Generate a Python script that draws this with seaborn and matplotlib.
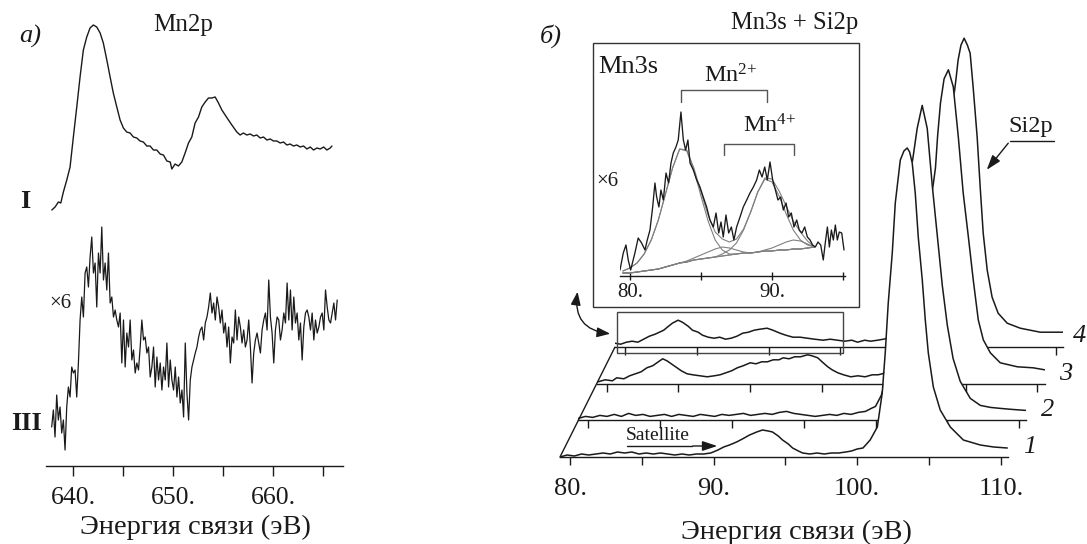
import numpy as np
import matplotlib
matplotlib.use('Agg')
import matplotlib.pyplot as plt
import seaborn as sns
from matplotlib.patches import Rectangle, FancyArrowPatch
from matplotlib.lines import Line2D

# ---------------- data ----------------
# Panel a) Mn2p : spectrum I
mn2p_I_energy = [637.84, 638.17, 638.50, 638.74, 639.00, 639.34, 639.67, 640.00, 640.34, 640.67,
                 641.00, 641.34, 641.67, 642.00, 642.34, 642.68, 643.00, 643.35, 643.68, 644.00,
                 644.35, 644.68, 645.01, 645.34, 645.68, 646.01, 646.35, 646.68, 647.01, 647.35,
                 647.68, 648.02, 648.35, 648.69, 649.02, 649.36, 649.70, 649.86, 650.19, 650.52,
                 650.86, 651.19, 651.53, 651.86, 652.19, 652.53, 652.86, 653.20, 653.53, 653.87,
                 654.20, 654.53, 654.87, 655.20, 655.53, 655.87, 656.37, 656.70, 657.03, 657.37,
                 657.70, 658.04, 658.37, 658.71, 659.04, 659.38, 659.71, 660.04, 660.38, 660.71,
                 661.04, 661.38, 661.71, 662.04, 662.38, 662.71, 663.05, 663.39, 663.72, 664.05,
                 664.39, 664.72, 665.06, 665.39, 665.72, 665.89]
mn2p_I_counts = [256, 259, 264, 263, 274, 286, 299, 329, 359, 389,
                 416, 429, 438, 441, 439, 433, 423, 406, 389, 373,
                 359, 346, 338, 334, 333, 329, 328, 325, 324, 320,
                 320, 316, 316, 312, 311, 305, 304, 297, 302, 300,
                 304, 313, 323, 329, 343, 349, 359, 364, 368, 368,
                 369, 363, 356, 351, 346, 341, 334, 331, 333, 331,
                 332, 330, 331, 328, 329, 326, 327, 325, 325, 323,
                 324, 321, 322, 320, 321, 319, 320, 317, 319, 316,
                 318, 317, 319, 316, 318, 320]

# Panel a) Mn2p : spectrum III (x6), sampled on a uniform energy grid
mn2p_III_range = (637.83, 666.42)
mn2p_III_counts = [39, 56, 29, 71, 46, 59, 33, 46, 16, 59, 79, 69, 99, 93, 96, 69, 103, 146, 169, 149,
                   193, 199, 179, 209, 229, 193, 203, 159, 213, 193, 239, 186, 203, 176, 213, 163, 169, 149,
                   156, 146, 139, 153, 103, 146, 99, 133, 119, 146, 106, 116, 93, 103, 96, 119, 146, 126,
                   129, 113, 119, 89, 99, 119, 79, 109, 86, 103, 76, 99, 86, 123, 79, 106, 86, 76, 99, 69,
                   89, 63, 76, 49, 123, 73, 46, 86, 99, 106, 113, 119, 129, 136, 139, 126, 143, 149, 159,
                   173, 153, 163, 146, 169, 159, 143, 156, 133, 143, 119, 139, 103, 129, 123, 156, 126,
                   149, 139, 123, 136, 119, 126, 146, 119, 83, 113, 126, 133, 123, 113, 136, 146, 153, 136,
                   186, 149, 133, 103, 136, 149, 146, 126, 136, 153, 143, 183, 146, 176, 136, 169, 143,
                   153, 126, 143, 106, 139, 153, 156, 149, 136, 153, 126, 146, 133, 139, 149, 153, 136,
                   176, 159, 146, 143, 153, 163, 146, 166]

# Panel б) Mn3s + Si2p : spectra 1..4
s1_energy = [79.3, 79.8, 80.3, 80.8, 81.3, 81.8, 82.3, 82.8, 83.3, 83.8, 84.3, 84.8, 85.3, 85.8, 86.3,
             86.8, 87.3, 87.8, 88.3, 88.8, 89.3, 89.8, 90.3, 90.7, 91.1, 91.6, 92.0, 92.5, 93.0, 93.4,
             93.8, 94.1, 94.5, 94.8, 95.2, 95.5, 95.9, 96.2, 96.7, 97.2, 97.7, 98.2, 98.7, 99.2, 99.6,
             100.0, 100.4, 100.9, 101.4, 101.74, 101.95, 102.16, 102.44, 102.65, 103.0, 103.25, 103.48,
             103.65, 103.83, 104.04, 104.25, 104.53, 104.74, 104.95, 105.3, 105.78, 106.48, 107.39,
             108.57, 109.5, 110.45]
s1_counts = [0, 2, 1, 3, 2, 3, 4, 3, 5, 4, 5, 3, 4, 3, 4,
             3, 2, 3, 2, 3, 3, 4, 7, 10, 12, 15, 18, 22, 25, 27,
             26, 25, 21, 17, 13, 9, 6, 4, 3, 4, 3, 4, 4, 5, 6,
             8, 9, 17, 30, 64, 104, 154, 204, 254, 297, 306, 309,
             305, 294, 264, 220, 177, 137, 104, 70, 47, 30, 17,
             12, 10, 9]

s2_energy = [79.3, 79.8, 80.3, 80.8, 81.3, 81.8, 82.3, 82.8, 83.3, 83.8, 84.3, 84.8, 85.3, 85.8, 86.3,
             86.8, 87.3, 87.8, 88.3, 88.8, 89.3, 89.8, 90.3, 90.8, 91.3, 91.8, 92.3, 92.8, 93.3, 93.8,
             94.3, 94.8, 95.3, 95.8, 96.3, 96.8, 97.3, 97.8, 98.3, 98.8, 99.3, 99.7, 100.0, 100.4,
             100.8, 101.1, 101.4, 101.7, 102.0, 102.3, 102.6, 102.9, 103.25, 103.6, 103.95, 104.3,
             104.65, 105.0, 105.4, 105.9, 106.6, 107.3, 108.0, 108.7, 109.5, 110.45]
s2_counts = [2, 4, 3, 5, 4, 6, 4, 7, 5, 6, 4, 5, 6, 4, 6,
             5, 4, 6, 5, 4, 6, 5, 6, 7, 5, 6, 7, 6, 8, 9,
             7, 6, 5, 4, 5, 6, 5, 7, 6, 8, 9, 12, 14, 25,
             45, 75, 115, 160, 205, 235, 262, 292, 315, 292, 235, 185,
             135, 95, 62, 39, 22, 15, 13, 12, 11, 10]

s3_energy = [79.4, 79.9, 80.4, 80.7, 81.2, 81.6, 82.0, 82.4, 82.8, 83.2, 83.5, 83.9, 84.2, 84.5, 84.9,
             85.2, 85.6, 86.0, 86.5, 87.0, 87.5, 87.9, 88.3, 88.7, 89.1, 89.5, 90.0, 90.4, 90.8, 91.2,
             91.6, 92.0, 92.3, 92.7, 93.1, 93.5, 94.0, 94.3, 94.7, 95.0, 95.4, 95.7, 96.1, 96.5, 97.0,
             97.5, 98.0, 98.5, 98.9, 99.2, 99.6, 100.0, 100.5, 101.0, 101.5, 102.0, 102.4, 102.75,
             102.9, 103.05, 103.25, 103.5, 103.8, 104.14, 104.49, 104.83, 105.19, 105.53, 105.88,
             106.23, 106.72, 107.41, 108.6, 109.7, 110.5]
s3_counts = [2, 4, 3, 6, 5, 8, 10, 12, 16, 18, 21, 25, 23, 20, 16,
             13, 10, 9, 8, 7, 8, 9, 11, 13, 16, 18, 21, 20, 22, 22,
             24, 24, 26, 25, 27, 27, 29, 28, 26, 22, 17, 14, 11, 9, 7,
             8, 7, 9, 9, 10, 13, 18, 30, 52, 90, 135, 170, 200,
             216, 248, 281, 305, 314, 297, 247, 191, 147, 104, 64,
             44, 31, 21, 17, 16, 14]

s4_energy = [79.3, 79.7, 80.1, 80.5, 80.9, 81.3, 81.7, 82.1, 82.4, 82.7, 82.95, 83.3, 83.7, 84.0, 84.4,
             84.7, 85.1, 85.4, 85.8, 86.2, 86.6, 87.0, 87.4, 87.8, 88.2, 88.6, 89.0, 89.4, 89.9, 90.3,
             90.8, 91.2, 91.7, 92.2, 92.7, 93.2, 93.8, 94.3, 94.8, 95.3, 95.8, 96.2, 96.7, 97.1, 97.6,
             98.0, 98.3, 99.0, 99.5, 100.0, 100.5, 101.0, 101.5, 102.0, 102.5, 102.9, 103.07, 103.2,
             103.4, 103.62, 103.85, 104.04, 104.25, 104.53, 104.74, 104.95, 105.23, 105.57, 105.99,
             106.62, 107.53, 108.92, 110.31, 110.6]
s4_counts = [4, 3, 5, 6, 5, 8, 11, 13, 15, 17, 20, 24, 27, 25, 21,
             17, 15, 12, 10, 9, 10, 8, 9, 11, 14, 15, 17, 18, 19, 17,
             14, 12, 10, 10, 9, 8, 7, 8, 7, 6, 7, 5, 7, 6, 7,
             8, 9, 12, 16, 22, 35, 60, 100, 150, 205, 250, 270, 287,
             302, 309, 302, 294, 260, 210, 160, 114, 77, 50, 34,
             24, 19, 15, 15, 15]

# Inset Mn3s (x6)
inset_energy = [79.30, 79.53, 79.72, 79.88, 80.05, 80.35, 80.58, 80.82, 81.06, 81.22, 81.41, 81.60, 81.76,
                81.88, 82.04, 82.18, 82.35, 82.54, 82.72, 82.89, 83.05, 83.24, 83.40, 83.59, 83.76, 83.92,
                84.08, 84.23, 84.46, 84.70, 84.93, 85.16, 85.40, 85.63, 85.87, 86.06, 86.25, 86.41, 86.57,
                86.76, 86.95, 87.14, 87.32, 87.51, 87.75, 87.98, 88.22, 88.45, 88.69, 88.92, 89.11, 89.30,
                89.49, 89.67, 89.86, 90.05, 90.24, 90.42, 90.61, 90.80, 90.99, 91.17, 91.36, 91.55, 91.74,
                91.92, 92.11, 92.30, 92.49, 92.68, 92.86, 93.05, 93.24, 93.43, 93.61, 93.75, 93.90, 94.04,
                94.18, 94.32, 94.46, 94.60, 94.74, 94.91, 95.07]
inset_counts = [6, 23, 31, 16, 6, 23, 38, 33, 26, 36, 46, 69, 93, 79, 69, 86, 76, 103, 93, 113, 123, 129,
                136, 164, 136, 126, 136, 113, 106, 96, 89, 79, 69, 56, 49, 63, 43, 54, 39, 61, 43, 49, 36,
                49, 59, 69, 76, 83, 89, 96, 106, 99, 109, 96, 114, 96, 86, 76, 79, 66, 73, 59, 63, 49, 56,
                46, 43, 49, 39, 36, 31, 29, 34, 31, 16, 33, 49, 29, 46, 36, 51, 36, 44, 43, 26]
fit_energy = [79.5, 80.0, 80.5, 81.0, 81.5, 82.0, 82.5, 83.0, 83.5, 84.0, 84.5, 85.0, 85.5, 86.0,
              86.5, 87.0, 87.5, 88.0, 88.5, 89.0, 89.5, 90.0, 90.5, 91.0, 91.5, 92.0, 92.5, 93.0]
fit_background = [3, 3, 4, 5, 6, 7, 9, 11, 13, 14, 16, 17, 18, 19, 20, 21, 22, 23, 23, 24, 25, 25, 26, 26, 27, 27, 28, 29]
fit_mn2_a = [5, 8, 13, 22, 36, 56, 82, 108, 127, 125, 106, 80, 55, 36, 26, 22, 22, 23, 23, 24, 25, 25, 26, 26, 27, 27, 28, 29]
fit_mn2_b = [3, 3, 4, 5, 6, 7, 9, 11, 13, 14, 16, 17, 18, 19, 22, 26, 33, 46, 64, 84, 97, 94, 80, 62, 46, 36, 31, 29]
fit_mn4_a = [3, 3, 4, 5, 6, 7, 9, 11, 13, 15, 18, 21, 24, 27, 29, 28, 26, 24, 23, 24, 25, 25, 26, 26, 27, 27, 28, 29]
fit_mn4_b = [3, 3, 4, 5, 6, 7, 9, 11, 13, 14, 16, 17, 18, 19, 20, 21, 22, 23, 23, 24, 26, 28, 31, 34, 36, 35, 32, 29]
fit_envelope = [5, 8, 13, 22, 36, 56, 82, 108, 127, 126, 108, 84, 61, 44, 37, 34, 37, 47, 64, 84, 98, 97, 85, 70, 55, 44, 35, 29]

left_ticks = [640, 645, 650, 655, 660, 665]
left_ticklabels = ['640.', '', '650.', '', '660.', '']
right_ticks = [80, 85, 90, 95, 100, 105, 110]
right_ticklabels = ['80.', '', '90.', '', '100.', '', '110.']
inset_ticks = [80, 85, 90, 95]
inset_ticklabels = ['80.', '', '90.', '']
spectrum_labels = ['1', '2', '3', '4']

# ---------------- style ----------------
sns.set_theme(style='white')
plt.rcParams['font.family'] = ['Liberation Serif', 'DejaVu Serif']
plt.rcParams['mathtext.fontset'] = 'custom'
plt.rcParams['mathtext.rm'] = 'Liberation Serif'
plt.rcParams['mathtext.it'] = 'Liberation Serif:italic'
plt.rcParams['mathtext.bf'] = 'Liberation Serif:bold'
plt.rcParams['mathtext.default'] = 'regular'

W, H = 1087, 544
fig = plt.figure(figsize=(W / 100, H / 100), dpi=100)
fig.patch.set_facecolor('white')
INK = '#1a1a1a'


def F(x, y):
    return (x / W, 1 - y / H)


def add_ax(x0, ytop, x1, ybot, z=1):
    ax = fig.add_axes([x0 / W, 1 - ybot / H, (x1 - x0) / W, (ybot - ytop) / H], zorder=z)
    ax.set_facecolor('none')
    for s in ['top', 'left', 'right']:
        ax.spines[s].set_visible(False)
    ax.spines['bottom'].set_color(INK)
    ax.spines['bottom'].set_linewidth(1.0)
    ax.set_yticks([])
    ax.grid(False)
    ax.set_xlabel('')
    ax.set_ylabel('')
    return ax


def curve(ax, x, y, lw=1.0, color=INK, z=3):
    sns.lineplot(x=np.asarray(x, float), y=np.asarray(y, float), ax=ax, color=color,
                 linewidth=lw, estimator=None, sort=False, legend=False, zorder=z)
    ax.set_xlabel('')
    ax.set_ylabel('')


# ---------------- panel a ----------------
axL = add_ax(46, 5, 343, 466)
axL.set_xlim(637.26, 667.0)
axL.set_ylim(0, 461)
curve(axL, mn2p_I_energy, mn2p_I_counts, lw=1.0)
e3 = np.linspace(mn2p_III_range[0], mn2p_III_range[1], len(mn2p_III_counts))
curve(axL, e3, mn2p_III_counts, lw=0.9)
axL.set_xticks(left_ticks)
axL.set_xticklabels(left_ticklabels)
axL.tick_params(axis='x', bottom=True, direction='out', length=7, width=1, color=INK,
                labelsize=18.5, pad=8, labelcolor=INK)

fig.text(*F(30, 36), 'а)', style='italic', size=19, ha='center', va='center', color=INK)
fig.text(*F(183, 25), 'Mn2p', size=18, ha='center', va='center', color=INK)
fig.text(*F(25, 202), 'I', weight='bold', size=19, ha='center', va='center', color=INK)
fig.text(*F(27, 424), 'III', weight='bold', size=19, ha='center', va='center', color=INK)
fig.text(*F(60, 304), '×6', size=15, ha='center', va='center', color=INK)
fig.text(*F(195, 527), 'Энергия связи (эВ)', size=20.5, ha='center', va='center', color=INK)

# ---------------- panel б ----------------
spectra = [(s1_energy, s1_counts), (s2_energy, s2_counts), (s3_energy, s3_counts), (s4_energy, s4_counts)]
dx, dy = 18.3, 36.6
axes_r = []
for k, (ek, ck) in enumerate(spectra):
    x0 = 560 + dx * k
    yb = 457 - dy * k
    ax = add_ax(x0, 10, x0 + 448, yb, z=10 - k)
    ax.set_xlim(79.3, 110.5)
    ax.set_ylim(0, yb - 10)
    ax.fill_between(ek, 0, ck, color='white', lw=0, zorder=1)
    curve(ax, ek, ck, lw=1.1)
    ax.set_xticks(right_ticks)
    if k == 0:
        ax.set_xticklabels(right_ticklabels)
    else:
        ax.set_xticklabels([''] * len(right_ticks))
    ax.tick_params(axis='x', bottom=True, direction='out', length=6, width=1, color=INK,
                   labelsize=19, pad=9, labelcolor=INK)
    axes_r.append(ax)

# frame on spectrum 4 marking Mn3s region
axes_r[3].add_patch(Rectangle((79.44, -6), 95.2 - 79.44, 41, fill=False, ec='#444', lw=1.0,
                              clip_on=False, zorder=5))
# slanted line joining the baselines
p0 = axes_r[0].get_position()
p3 = axes_r[3].get_position()
fig.add_artist(Line2D([p0.x0, p3.x0], [p0.y0, p3.y0], color=INK, lw=1.0, zorder=20))

# number labels
for k, (px, py) in enumerate([(1030, 447), (1048, 410), (1066, 374), (1080, 336)]):
    fig.text(*F(px, py), spectrum_labels[k], style='italic', size=19, ha='center', va='center', color=INK)

fig.text(*F(551, 36), 'б)', style='italic', size=19, ha='center', va='center', color=INK)
fig.text(*F(795, 23), 'Mn3s + Si2p', size=17.7, ha='center', va='center', color=INK)
fig.text(*F(796, 532), 'Энергия связи (эВ)', size=20.5, ha='center', va='center', color=INK)

# Satellite annotation
fig.text(*F(658, 436), 'Satellite', size=14, ha='center', va='center', color=INK)
fig.add_artist(Line2D([627 / W, 692 / W], [1 - 446 / H, 1 - 446 / H], color=INK, lw=1.0, zorder=20))
fig.add_artist(FancyArrowPatch(F(690, 446), F(720, 446), transform=fig.transFigure,
                               arrowstyle='-|>,head_length=0.9,head_width=0.3', mutation_scale=10,
                               color=INK, lw=1.0, zorder=20))

# Si2p annotation
fig.text(*F(1031, 126), 'Si2p', size=17.5, ha='center', va='center', color=INK)
fig.add_artist(Line2D([1010 / W, 1054 / W], [1 - 141 / H, 1 - 141 / H], color=INK, lw=1.0, zorder=20))
fig.add_artist(FancyArrowPatch(F(1010, 141), F(985, 172), transform=fig.transFigure,
                               arrowstyle='-|>,head_length=0.9,head_width=0.3', mutation_scale=10,
                               color=INK, lw=1.0, zorder=20))

# curved double arrow linking frame and inset
fig.add_artist(FancyArrowPatch(F(578, 289), F(613, 334), transform=fig.transFigure,
                               arrowstyle='<|-|>,head_length=0.8,head_width=0.3', mutation_scale=10,
                               connectionstyle='arc3,rad=0.55', color=INK, lw=1.0, zorder=20))

# ---------------- inset ----------------
fig.add_artist(Rectangle(F(593, 307), (859 - 593) / W, (307 - 43) / H, transform=fig.transFigure,
                         fill=False, ec='#333', lw=1.0, zorder=20))
axI = add_ax(620, 45, 845, 276, z=15)
axI.set_xlim(79.3, 95.14)
axI.set_ylim(0, 231)
GR = '#808080'
for comp in [fit_background, fit_mn2_a, fit_mn2_b, fit_mn4_a, fit_mn4_b, fit_envelope]:
    curve(axI, fit_energy, comp, lw=0.8, color=GR, z=2)
curve(axI, inset_energy, inset_counts, lw=0.95, color=INK, z=3)
axI.plot([83.6, 83.6, 89.65, 89.65], [174, 186, 186, 174], color='#555', lw=1.0)
axI.plot([86.6, 86.6, 91.55, 91.55], [121, 132, 132, 121], color='#555', lw=1.0)
axI.set_xticks(inset_ticks)
axI.set_xticklabels(inset_ticklabels)
axI.tick_params(axis='x', bottom=True, direction='inout', length=6, width=1, color=INK,
                labelsize=15, pad=2, labelcolor=INK)

fig.text(598 / W, 1 - 67 / H, 'Mn3s', size=19, ha='left', va='center', color=INK)
fig.text(*F(731, 76), 'Mn$^{2{+}}$', size=17.5, ha='center', va='center', color=INK)
fig.text(*F(770, 126), 'Mn$^{4{+}}$', size=17.5, ha='center', va='center', color=INK)
fig.text(*F(607, 182), '×6', size=15, ha='center', va='center', color=INK)

fig.savefig('out.png', dpi=100, facecolor='white')
